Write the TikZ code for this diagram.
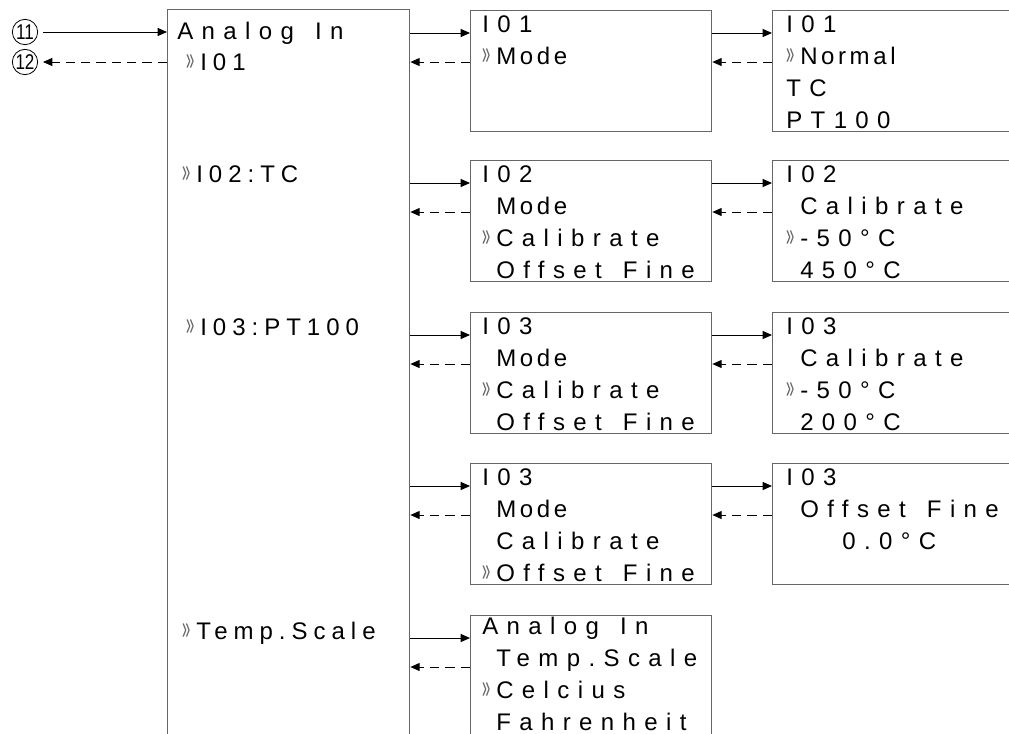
\documentclass[tikz,border=0pt]{standalone}
\usepackage{fontspec}
\setmainfont{Liberation Sans}
\newfontfamily\lcdfont[LetterSpace=35,WordSpace=1.4]{Liberation Sans}
\newfontfamily\lcdnarrow[LetterSpace=25]{Liberation Sans}
\newfontfamily\lcdtight[LetterSpace=15]{Liberation Sans}
\usepackage{graphicx}
\usepackage{xcolor}
\usetikzlibrary{
	arrows.meta,
	positioning,
	calc
}

\newcommand{\hd}{\hspace*{-10.5pt}}
\newcommand{\tgt}[1]{{\lcdtight #1}}
\newcommand{\chev}{\llap{{\normalfont\fontsize{17pt}{17pt}\selectfont\color{black!60}\scalebox{0.65}[1.5]{»}}\hspace{4.5pt}}}

\begin{document}
\begin{tikzpicture}[x=0.75pt,y=-0.75pt,
		>={Triangle[length=7pt,width=6pt]},
		screen/.style={draw=black!60,line width=1pt,anchor=north west,inner sep=0pt,
			minimum width=180.75pt,minimum height=90.75pt},
		lcd/.style={anchor=base west,inner sep=0pt,align=left,
			font=\lcdfont\fontsize{18pt}{24pt}\selectfont},
		lcdl/.style={lcd,font=\lcdnarrow\fontsize{18pt}{24pt}\selectfont},
		fwd/.style={->,line width=0.75pt},
		bwd/.style={fwd,dash pattern=on 7pt off 4.5pt},
		num/.style={circle,draw,line width=0.6pt,inner sep=0pt,minimum size=19pt,
			outer sep=4pt,font=\fontsize{16pt}{16pt}\selectfont}]
			
			\useasboundingbox (0,0) rectangle (1009,733);
			\clip (0,0) rectangle (1009,733);
			
			\node[screen,minimum width=181.5pt,minimum height=570pt] (lbox) at (167,9) {};
			
			\node[screen] (m1) at (470,10) {};
			\node[screen] (m2) at (470,160) {};
			\node[screen] (m3) at (470,312) {};
			\node[screen] (m4) at (470,463) {};
			\node[screen,minimum height=105pt] (m5) at (470,615) {};
			
			\node[screen,minimum width=195pt] (r1) at (772,10) {};
			\node[screen,minimum width=195pt] (r2) at (772,160) {};
			\node[screen,minimum width=195pt] (r3) at (772,312) {};
			\node[screen,minimum width=195pt] (r4) at (772,463) {};
			
			\node[lcd] (lt1) at (177,39) {Analog In};
			\node[lcdl] (lt2) at (200,70) {\chev I01};
			\node[lcdl] (lt3) at (196,182) {\chev I02:TC};
			\node[lcdl] (lt4) at (200,335) {\chev I03:PT100};
			\node[lcdl] (lt5) at (196,639) {\chev Temp.Scale};
			
			\node[lcd] (m1t) at ($(m1.north west)+(26,54)$) {\hd I01\\\chev\tgt{Mode}};
			\node[lcd] (m2t) at ($(m2.north west)+(26,118)$) {\hd I02\\\tgt{Mode}\\\chev Calibrate\\Offset Fine};
			\node[lcd] (m3t) at ($(m3.north west)+(26,118)$) {\hd I03\\\tgt{Mode}\\\chev Calibrate\\Offset Fine};
			\node[lcd] (m4t) at ($(m4.north west)+(26,118)$) {\hd I03\\\tgt{Mode}\\Calibrate\\\chev Offset Fine};
			\node[lcd] (m5t) at ($(m5.north west)+(26,115)$) {\hd Analog In\\Temp.Scale\\\chev Celcius\\Fahrenheit};
			
			\node[lcd] (r1t) at ($(r1.north west)+(28,118)$) {\hd I01\\\chev\tgt{Normal}\\\hd TC\\\hd PT100};
			\node[lcd] (r2t) at ($(r2.north west)+(28,118)$) {\hd I02\\Calibrate\\\chev -50°C\\450°C};
			\node[lcd] (r3t) at ($(r3.north west)+(28,118)$) {\hd I03\\Calibrate\\\chev -50°C\\200°C};
			\node[lcd] (r4t) at ($(r4.north west)+(28,86)$) {\hd I03\\Offset Fine\\\hspace*{31.5pt}0.0°C};
			
			\node[num] (c11) at (25,32) {\scalebox{0.8}[1]{11}};
			\node[num] (c12) at (25,62) {\scalebox{0.8}[1]{12}};
			
			\draw[fwd] (c11) -- (lbox.west |- c11);
			\draw[bwd] (lbox.west |- c12) -- (c12);
			
			\foreach \i in {1,...,5}{
				\coordinate (m\i-fw) at ($(m\i.north west)+(0,23)$);
				\coordinate (m\i-bk) at ($(m\i.north west)+(0,52)$);
				\draw[fwd] (lbox.east |- m\i-fw) -- (m\i-fw);
				\draw[bwd] (m\i-bk) -- (lbox.east |- m\i-bk);
			}
			
			\foreach \i in {1,...,4}{
				\coordinate (r\i-fw) at ($(r\i.north west)+(0,23)$);
				\coordinate (r\i-bk) at ($(r\i.north west)+(0,52)$);
				\draw[fwd] (m\i.east |- r\i-fw) -- (r\i-fw);
				\draw[bwd] (r\i-bk) -- (m\i.east |- r\i-bk);
			}
			
		\end{tikzpicture}
\end{document}
